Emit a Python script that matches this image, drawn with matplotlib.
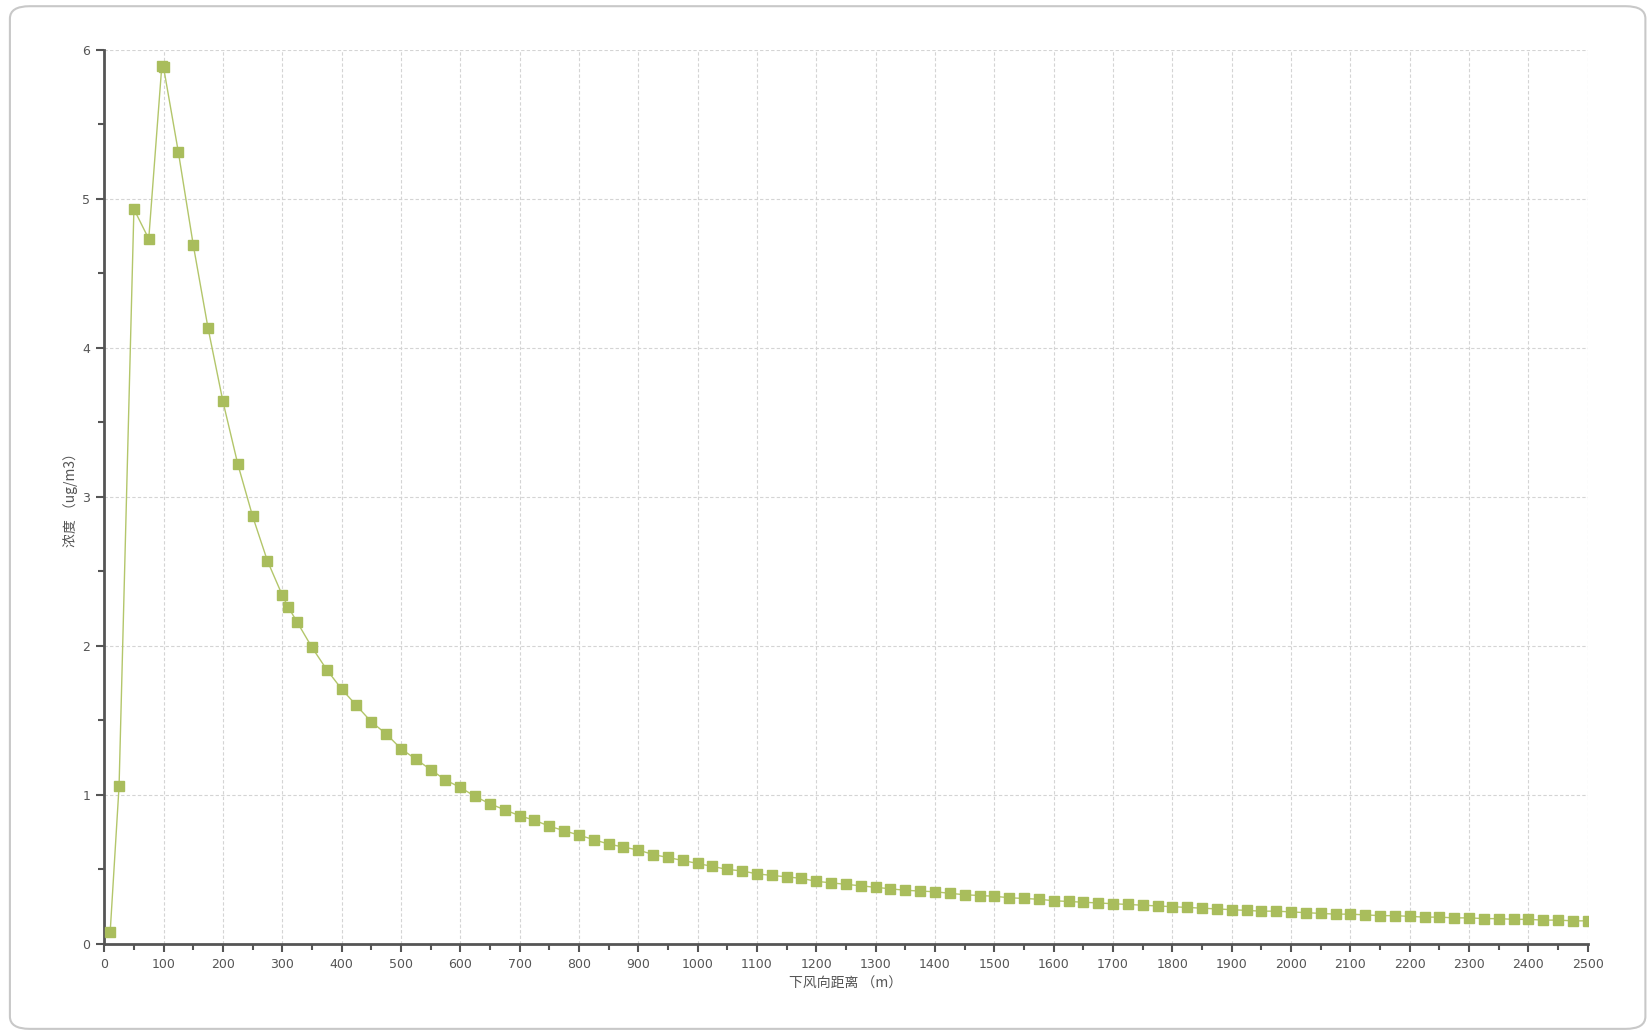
import numpy as np
import matplotlib.pyplot as plt
from matplotlib.patches import FancyBboxPatch

plt.rcParams['font.family'] = ['Noto Sans CJK SC', 'DejaVu Sans']

# downwind distance (m) and concentration (ug/m3)
dist = [10, 25, 50, 75, 97, 100, 125, 150, 175, 200, 225, 250, 275, 300, 310, 325,
        350, 375, 400, 425, 450, 475, 500, 525, 550, 575, 600, 625, 650, 675,
        700, 725, 750, 775, 800, 825, 850, 875, 900, 925, 950, 975, 1000,
        1025, 1050, 1075, 1100, 1125, 1150, 1175, 1200, 1225, 1250, 1275,
        1300, 1325, 1350, 1375, 1400, 1425, 1450, 1475, 1500, 1525, 1550,
        1575, 1600, 1625, 1650, 1675, 1700, 1725, 1750, 1775, 1800, 1825,
        1850, 1875, 1900, 1925, 1950, 1975, 2000, 2025, 2050, 2075, 2100,
        2125, 2150, 2175, 2200, 2225, 2250, 2275, 2300, 2325, 2350, 2375,
        2400, 2425, 2450, 2475, 2500]
conc = [0.08, 1.06, 4.93, 4.73, 5.89, 5.88, 5.31, 4.69, 4.13, 3.64, 3.22, 2.87, 2.57, 2.34, 2.26, 2.16,
        1.99, 1.84, 1.71, 1.60, 1.49, 1.41, 1.31, 1.24, 1.17, 1.10, 1.05, 0.99, 0.94, 0.90,
        0.86, 0.83, 0.79, 0.76, 0.73, 0.70, 0.67, 0.65, 0.63, 0.60, 0.58, 0.56, 0.54,
        0.52, 0.50, 0.49, 0.47, 0.46, 0.45, 0.44, 0.42, 0.41, 0.40, 0.39,
        0.38, 0.37, 0.36, 0.355, 0.35, 0.34, 0.33, 0.325, 0.32, 0.31, 0.305,
        0.30, 0.29, 0.285, 0.28, 0.275, 0.27, 0.265, 0.26, 0.255, 0.25, 0.245,
        0.24, 0.235, 0.23, 0.225, 0.22, 0.22, 0.215, 0.21, 0.205, 0.20, 0.20,
        0.195, 0.19, 0.19, 0.185, 0.18, 0.18, 0.175, 0.175, 0.17, 0.17, 0.165,
        0.165, 0.16, 0.16, 0.155, 0.155]

x_major = np.arange(0, 2501, 100)
y_major = np.arange(0, 7, 1)

fig = plt.figure(figsize=(16.52, 10.33), dpi=100)

# rounded frame around the whole chart
frame = FancyBboxPatch((0.006, 0.004), 0.99, 0.99,
                       boxstyle='round,pad=0,rounding_size=0.012',
                       transform=fig.transFigure, fc='white', ec='#c8c8c8',
                       lw=1.5, zorder=-10)
fig.patches.append(frame)

ax = fig.add_axes([0.0631, 0.0862, 0.898, 0.8658])
ax.set_facecolor('none')

ax.plot(dist, conc, color='#b3c66a', lw=1.0, marker='s', markersize=7,
        markerfacecolor='#a9bd5c', markeredgecolor='#a9bd5c', zorder=3)

ax.set_xlim(0, 2500)
ax.set_ylim(0, 6)
ax.set_xticks(x_major)
ax.set_yticks(y_major)
ax.set_xticks(np.arange(50, 2500, 100), minor=True)
ax.set_yticks(np.arange(0.5, 6, 1), minor=True)

ax.grid(which='major', color='#d4d4d4', linestyle=(0, (3, 2)), linewidth=0.8)

for s in ['top', 'right']:
    ax.spines[s].set_visible(False)
for s in ['left', 'bottom']:
    ax.spines[s].set_color('#555555')
    ax.spines[s].set_linewidth(2)

ax.tick_params(which='major', direction='out', length=6, width=1.5,
               color='#555555', labelsize=9, labelcolor='#555555', pad=4)
ax.tick_params(which='minor', direction='out', length=4, width=1.5,
               color='#555555')
for lbl in ax.get_xticklabels() + ax.get_yticklabels():
    lbl.set_family('DejaVu Sans')

ax.set_xlabel('下风向距离 （m）', fontsize=10, color='#555555', labelpad=4)
ax.set_ylabel('浓度 （ug/m3）', fontsize=10, color='#555555', labelpad=3)

fig.savefig('out.png', dpi=100, facecolor='white')
